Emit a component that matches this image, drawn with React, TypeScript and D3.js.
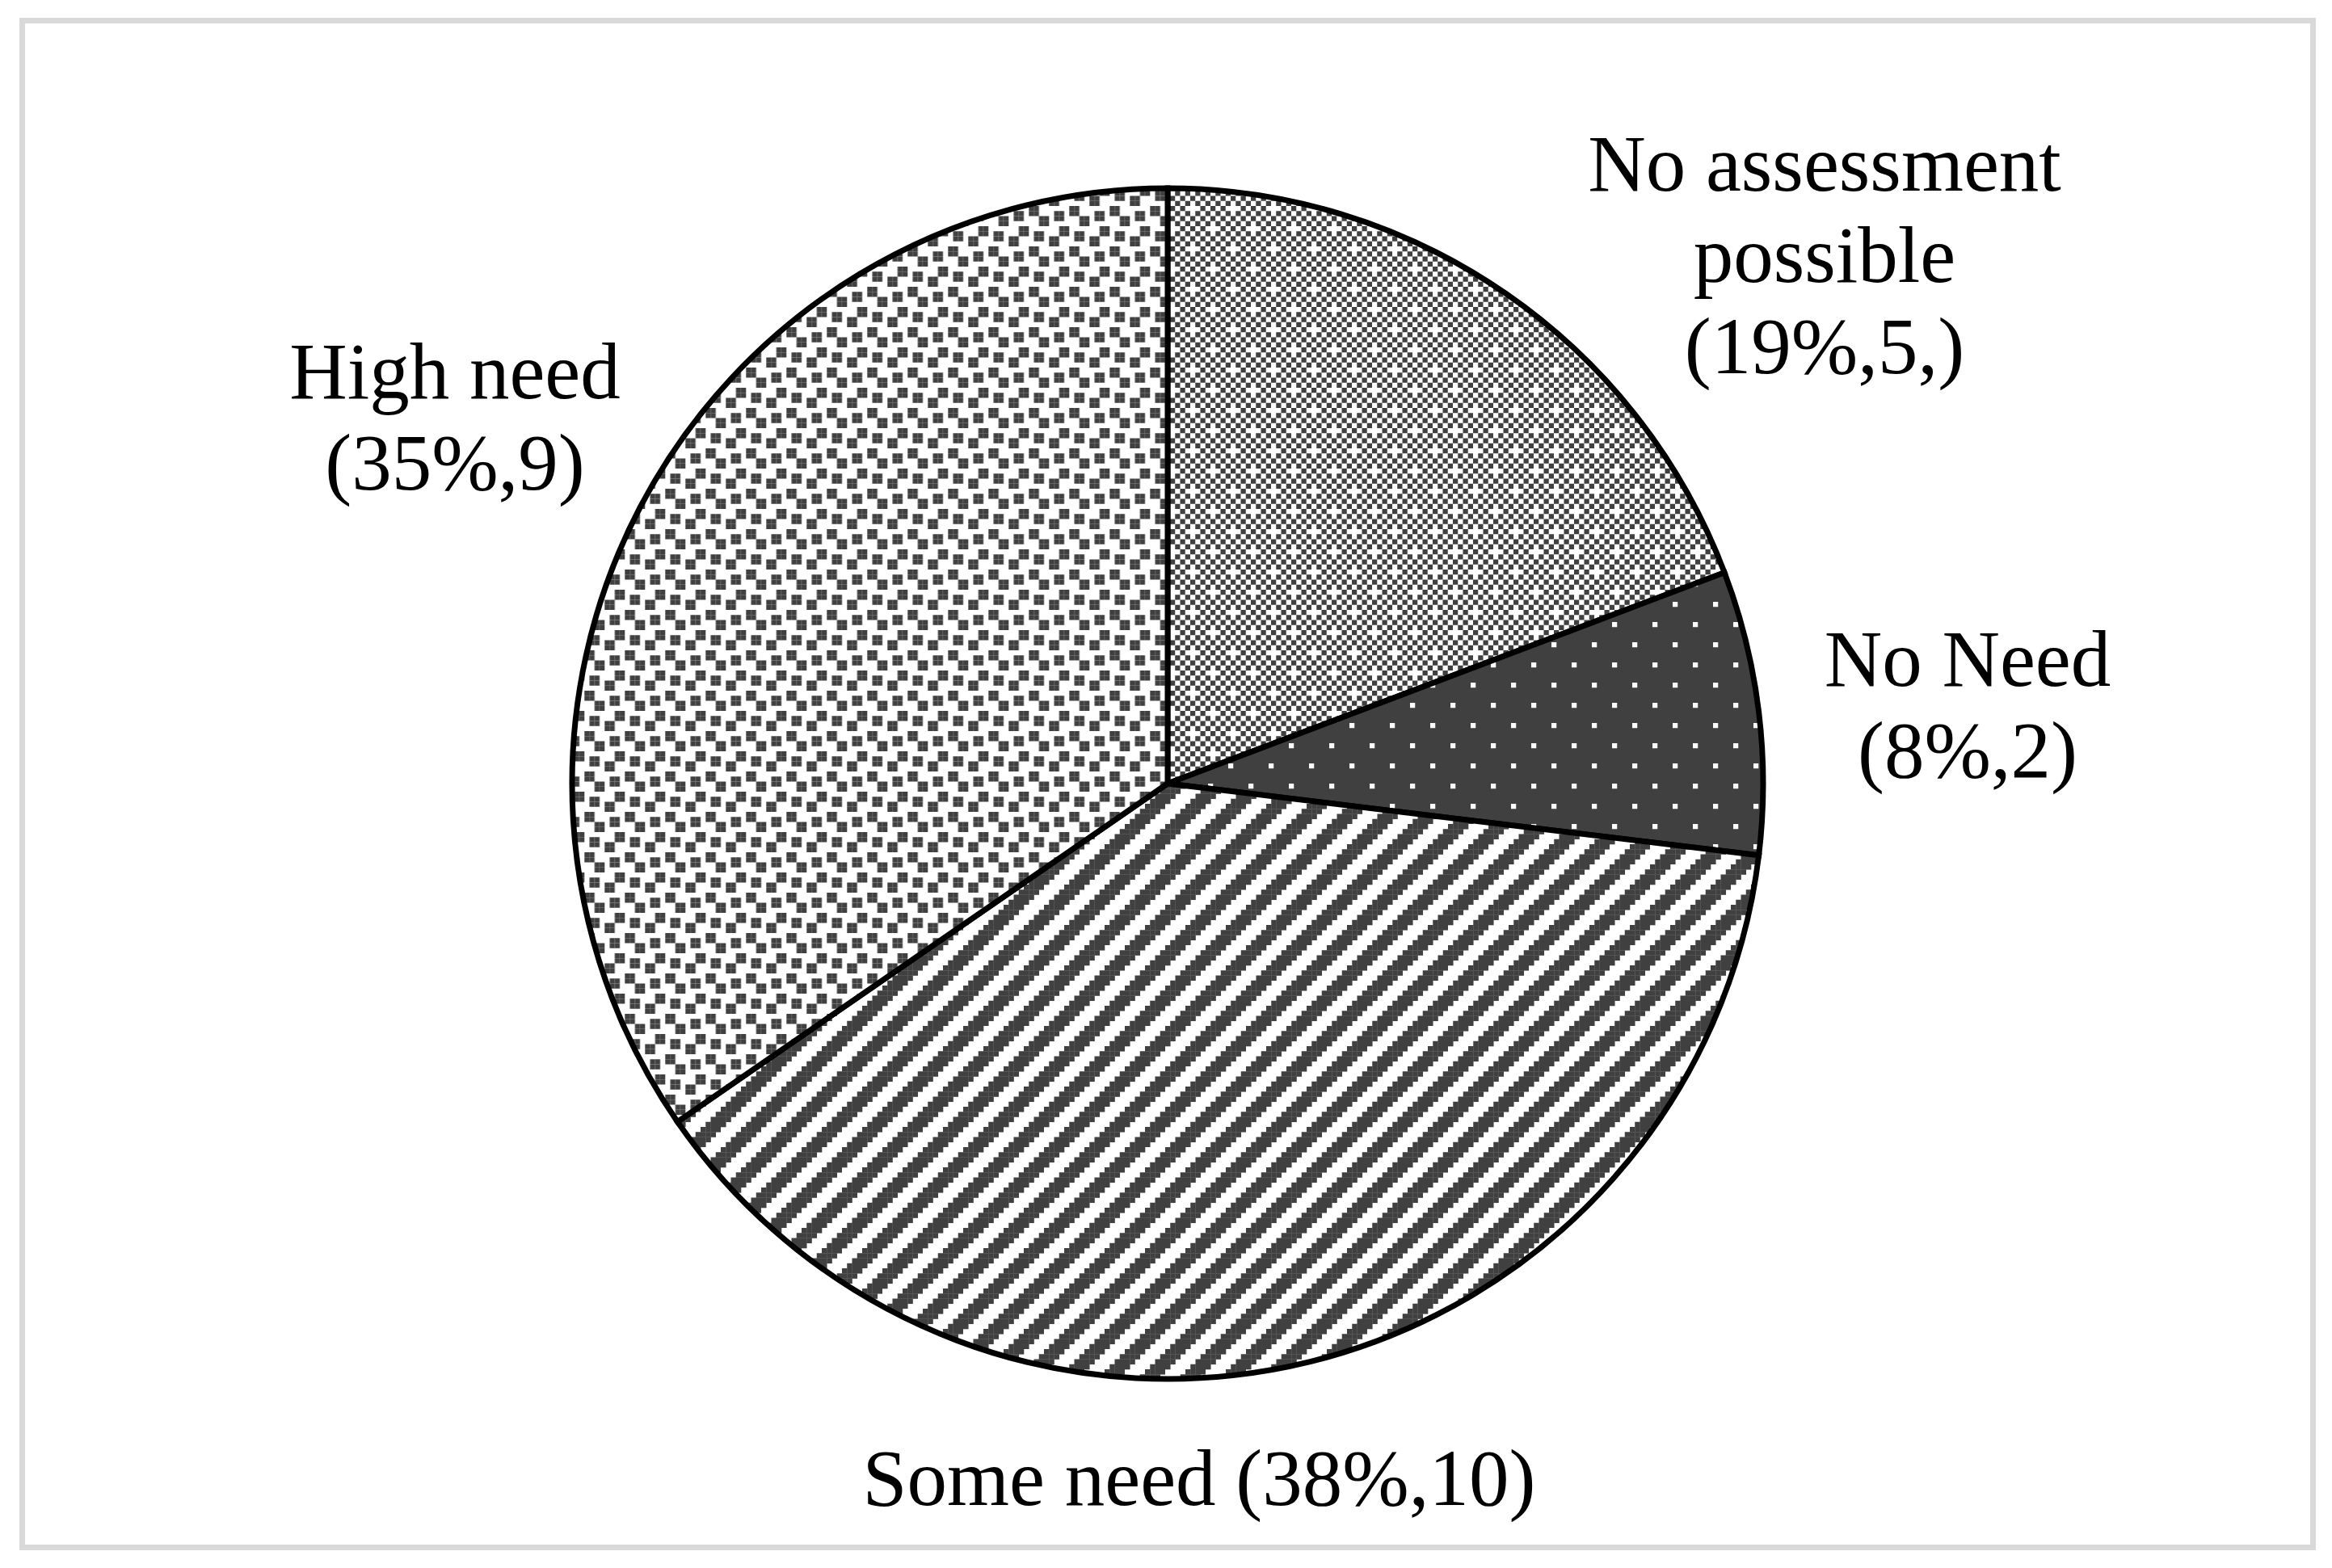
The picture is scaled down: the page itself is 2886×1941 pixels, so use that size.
import React from 'react';
import * as d3 from 'd3';

// ---- data ----
const categories = ["No assessment possible", "No Need", "Some need", "High need"];
const counts = [5, 2, 10, 9];
const percentLabels = ["19%", "8%", "38%", "35%"];
const labelLines = [
  ["No assessment", "possible", "(19%,5,)"],
  ["No Need", "(8%,2)"],
  ["Some need (38%,10)"],
  ["High need", "(35%,9)"],
];

// ---- layout ----
const W = 2886, H = 1941;
const CX = 1445, CY = 970, R = 737;
const DARK = '#404040';
const CELL = 6.25;
const TILE = CELL * 8;
const FONT = "'Liberation Serif', 'Times New Roman', serif";
const FS = 99;
const LINE = 113;
const labelAnchors = [
  { x: 2258, y: 236 },
  { x: 2435, y: 849 },
  { x: 1484, y: 1863 },
  { x: 563, y: 493 },
];

function checkerCells() {
  const out: number[][] = [];
  for (let r = 0; r < 8; r++)
    for (let c = 0; c < 8; c++)
      if ((r + c) % 2 === 0 && !((r === 0 && c === 0) || (r === 4 && c === 4))) out.push([c, r]);
  return out;
}
function stripeCells() {
  const out: number[][] = [];
  for (let r = 0; r < 8; r++)
    for (let c = 0; c < 8; c++)
      if ((c + r) % 8 < 4) out.push([c, r]);
  return out;
}
const dotCells = [[0, 0], [4, 4]];
const highSquares = [[2, 0], [5, 1], [0, 2], [4, 4], [1, 5], [6, 6]];

function Patterns() {
  return (
    <defs>
      <pattern id="p0" patternUnits="userSpaceOnUse" width={TILE} height={TILE} x={3} y={10}>
        <rect width={TILE} height={TILE} fill="#fff" />
        {checkerCells().map(([c, r], i) => (
          <rect key={i} x={c * CELL} y={r * CELL} width={CELL} height={CELL} fill={DARK} />
        ))}
      </pattern>
      <pattern id="p1" patternUnits="userSpaceOnUse" width={TILE} height={TILE} x={0} y={0}>
        <rect width={TILE} height={TILE} fill={DARK} />
        {dotCells.map(([c, r], i) => (
          <rect key={i} x={c * CELL} y={r * CELL} width={CELL} height={CELL} fill="#fff" />
        ))}
      </pattern>
      <pattern id="p2" patternUnits="userSpaceOnUse" width={TILE} height={TILE} x={47} y={0}>
        <rect width={TILE} height={TILE} fill="#fff" />
        {stripeCells().map(([c, r], i) => (
          <rect key={i} x={c * CELL} y={r * CELL} width={CELL + 0.3} height={CELL + 0.3} fill={DARK} />
        ))}
      </pattern>
      <pattern id="p3" patternUnits="userSpaceOnUse" width={TILE} height={TILE} x={3.3} y={10}>
        <rect width={TILE} height={TILE} fill="#fff" />
        {highSquares.map(([c, r], i) => (
          <g key={i}>
            {[[0, 0], [1, 0], [0, 1], [1, 1]].map(([dx, dy], j) => {
              const cc = (c + dx) % 8, rr = (r + dy) % 8;
              return <rect key={j} x={cc * CELL} y={rr * CELL} width={CELL} height={CELL} fill={DARK} />;
            })}
          </g>
        ))}
      </pattern>
    </defs>
  );
}

export default function App() {
  const pie = d3.pie<number>().sort(null).value(d => d).startAngle(0).endAngle(2 * Math.PI);
  const arcs = pie(counts);
  const arc = d3.arc<d3.PieArcDatum<number>>().innerRadius(0).outerRadius(R);

  return (
    <svg width={W} height={H} viewBox={`0 0 ${W} ${H}`}
      style={{ position: 'absolute', left: 0, top: 0, background: '#fff' }}>
      <Patterns />
      <rect x={0} y={0} width={W} height={H} fill="#fff" />
      <rect x={27.5} y={25.5} width={2835} height={1890} fill="#fff" stroke="#d9d9d9" strokeWidth={7} />
      <g transform={`translate(${CX},${CY})`}>
        {arcs.map((a, i) => (
          <path key={categories[i]} d={arc(a) || ''} fill={`url(#p${i})`} stroke="#000"
            strokeWidth={7} strokeLinejoin="miter" />
        ))}
      </g>
      {labelLines.map((lines, i) => (
        <text key={i} x={labelAnchors[i].x} y={labelAnchors[i].y} textAnchor="middle"
          fontFamily={FONT} fontSize={FS} fill="#000" data-pct={percentLabels[i]}>
          {lines.map((l, j) => (
            <tspan key={j} x={labelAnchors[i].x} dy={j === 0 ? 0 : LINE}>{l}</tspan>
          ))}
        </text>
      ))}
    </svg>
  );
}
